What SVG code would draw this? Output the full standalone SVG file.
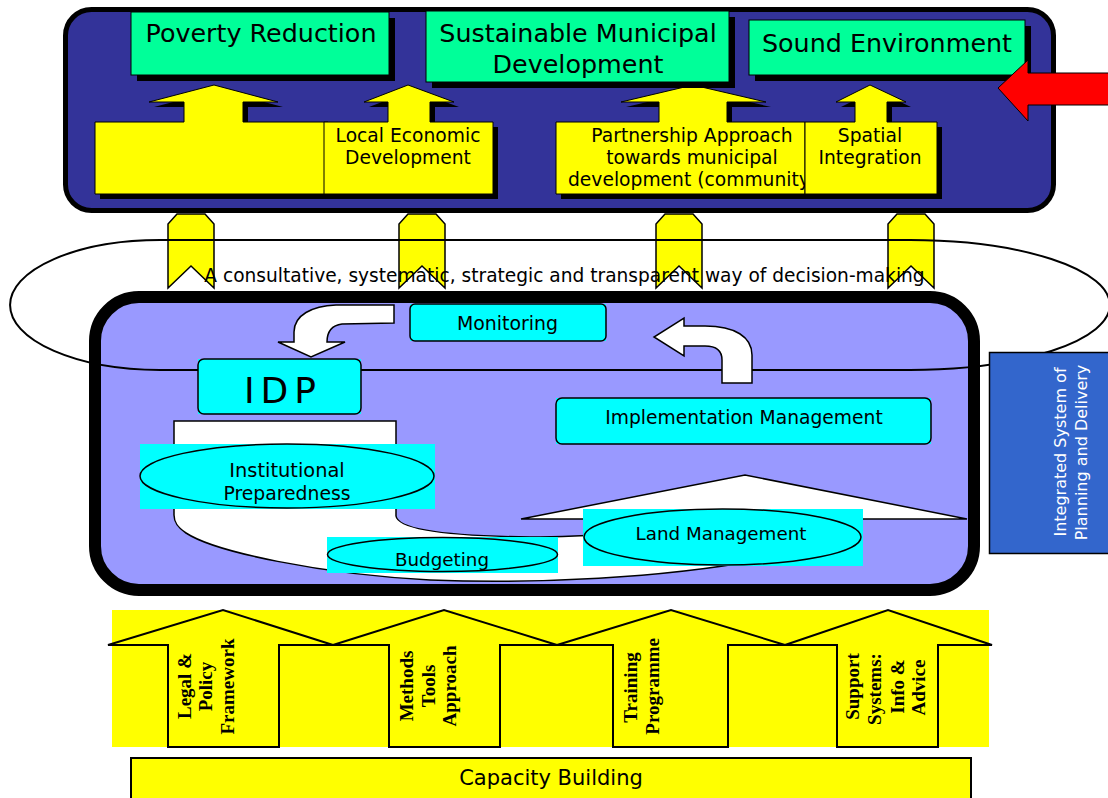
<svg xmlns="http://www.w3.org/2000/svg" width="1108" height="798" viewBox="0 0 1108 798">
  <style>
    .sans { font-family: "DejaVu Sans", "Liberation Sans", sans-serif; fill: #000; }
    .serifb { font-family: "Liberation Serif", "Times New Roman", serif; font-weight: bold; font-size: 19px; fill: #000; }
    .goal { font-size: 25.4px; }
    .lbl { font-size: 18.7px; }
    .oval { font-size: 18.3px; }
    .shadow { fill: #000; }
    .green { fill: #00FF99; stroke: #000; stroke-width: 1; }
    .yel { fill: #FFFF00; stroke: #000; stroke-width: 1; }
    .chev { fill: #FFFF00; stroke: #000; stroke-width: 1.5; }
    .cyanbg { fill: #00FFFF; }
    .cyanbox { fill: #00FFFF; stroke: #000; stroke-width: 1.5; }
    .whiteshape { fill: #FFFFFF; stroke: #000; stroke-width: 1.5; }
    .outline { fill: none; stroke: #000; stroke-width: 2; }
    .side { font-family: "DejaVu Sans", "Liberation Sans", sans-serif; font-size: 16px; fill: #FFFFFF; }
  </style>

  <!-- Outcome panel -->
  <g id="outcome-panel">
    <rect x="65.5" y="9.5" width="988" height="201" rx="26" fill="#333399" stroke="#000" stroke-width="5"/>
  </g>

  <!-- Sector blocks pushing up into the goals -->
  <g id="block-poverty">
    <polygon class="shadow" transform="translate(5,5)" points="95,122 184,122 184,102 149,102 214,85 278,102 243,102 243,122 328,122 328,194 95,194"/>
    <polygon class="yel" points="95,122 184,122 184,102 149,102 214,85 278,102 243,102 243,122 328,122 328,194 95,194"/>
  </g>
  <g id="block-led">
    <polygon class="shadow" transform="translate(5,5)" points="324,122 388,122 388,102 364,102 408,85 454,102 430,102 430,122 493,122 493,194 324,194"/>
    <polygon class="yel" points="324,122 388,122 388,102 364,102 408,85 454,102 430,102 430,122 493,122 493,194 324,194"/>
    <text class="sans lbl" text-anchor="middle" x="408" y="142">Local Economic</text>
    <text class="sans lbl" text-anchor="middle" x="408" y="164">Development</text>
  </g>
  <g id="block-partnership">
    <polygon class="shadow" transform="translate(5,5)" points="556,122 659,122 659,102 621,102 693,85 766,102 727,102 727,122 805,122 805,194 556,194"/>
    <polygon class="yel" points="556,122 659,122 659,102 621,102 693,85 766,102 727,102 727,122 805,122 805,194 556,194"/>
    <text class="sans lbl" text-anchor="middle" x="692" y="142">Partnership Approach</text>
    <text class="sans lbl" text-anchor="middle" x="692" y="164">towards municipal</text>
    <text class="sans lbl" x="568" y="186">development (community</text>
  </g>
  <g id="block-spatial">
    <polygon class="shadow" transform="translate(5,5)" points="805,122 855,122 855,102 836,102 870,85 906,102 887,102 887,122 937,122 937,194 805,194"/>
    <polygon class="yel" points="805,122 855,122 855,102 836,102 870,85 906,102 887,102 887,122 937,122 937,194 805,194"/>
    <text class="sans lbl" text-anchor="middle" x="870" y="142">Spatial</text>
    <text class="sans lbl" text-anchor="middle" x="870" y="164">Integration</text>
  </g>

  <!-- Goals -->
  <g id="goal-poverty">
    <rect class="shadow" x="137" y="18" width="258" height="63"/>
    <rect class="green" x="131" y="12" width="258" height="63"/>
    <text class="sans goal" text-anchor="middle" x="261" y="42">Poverty Reduction</text>
  </g>
  <g id="goal-municipal">
    <rect class="shadow" x="432" y="17" width="303" height="71"/>
    <rect class="green" x="426" y="11" width="303" height="71"/>
    <text class="sans goal" text-anchor="middle" x="578" y="42">Sustainable Municipal</text>
    <text class="sans goal" text-anchor="middle" x="578" y="73">Development</text>
  </g>
  <g id="goal-environment">
    <rect class="shadow" x="755" y="26" width="276" height="55"/>
    <rect class="green" x="749" y="20" width="276" height="55"/>
    <text class="sans goal" text-anchor="middle" x="887" y="52">Sound Environment</text>
  </g>

  <!-- Links between the planning cycle and the outcome panel -->
  <g id="links">
    <polygon class="chev" points="177,214 205,214 214,224 214,288 191,266 168,288 168,224"/>
    <polygon class="chev" points="408,214 436,214 445,224 445,288 422,266 399,288 399,224"/>
    <polygon class="chev" points="665,214 693,214 702,224 702,288 679,266 656,288 656,224"/>
    <polygon class="chev" points="897,214 925,214 934,224 934,288 911,266 888,288 888,224"/>
  </g>

  <!-- Planning cycle panel -->
  <g id="cycle-panel">
    <rect x="95" y="297" width="879" height="293" rx="44" fill="#9999FF" stroke="#000" stroke-width="12"/>
  </g>

  <!-- Decision-making ring -->
  <g id="decision-ring">
    <path class="outline" d="M 160,240 H 910 A 200,65 0 0 1 910,370 H 160 A 150,65 0 0 1 160,240 Z"/>
    <text class="sans" font-size="18.6" text-anchor="middle" x="564.5" y="282">A consultative, systematic, strategic and transparent way of decision-making</text>
  </g>

  <!-- Cycle internals -->
  <g id="budget-flow">
    <path class="whiteshape" d="M 174,421 H 396 V 516 C 398,530 450,536 530,537 C 600,537 680,530 760,522 V 560 C 660,578 540,584 430,580 C 320,574 215,552 186,533 C 177,527 174,522 174,515 Z"/>
  </g>
  <g id="land-roof">
    <polygon class="whiteshape" points="521,519 745,475 967,519"/>
  </g>
  <g id="institutional">
    <rect class="cyanbg" x="140" y="444" width="295" height="65"/>
    <ellipse class="cyanbox" cx="287" cy="476" rx="147" ry="32"/>
    <text class="sans" font-size="19.4" text-anchor="middle" x="287" y="477">Institutional</text>
    <text class="sans" font-size="18.8" text-anchor="middle" x="287" y="500">Preparedness</text>
  </g>
  <g id="budgeting">
    <rect class="cyanbg" x="327" y="537" width="231" height="36"/>
    <ellipse class="cyanbox" cx="442.5" cy="554.5" rx="115" ry="17"/>
    <text class="sans oval" text-anchor="middle" x="442" y="566">Budgeting</text>
  </g>
  <g id="land-management">
    <rect class="cyanbg" x="583" y="509" width="280" height="57"/>
    <ellipse class="cyanbox" cx="722.5" cy="537" rx="138.5" ry="28"/>
    <text class="sans oval" text-anchor="middle" x="721" y="539.5">Land Management</text>
  </g>
  <g id="idp">
    <rect class="cyanbg" x="198" y="359" width="163" height="55"/>
    <rect class="cyanbox" x="198" y="359" width="163" height="55" rx="6"/>
    <text class="sans" font-size="36" letter-spacing="6" text-anchor="middle" x="283" y="403">IDP</text>
  </g>
  <g id="monitoring">
    <rect class="cyanbg" x="410" y="304" width="196" height="37"/>
    <rect class="cyanbox" x="410" y="304" width="196" height="37" rx="5"/>
    <text class="sans" font-size="18.9" text-anchor="middle" x="507.5" y="330">Monitoring</text>
  </g>
  <g id="implementation">
    <rect class="cyanbg" x="556" y="398" width="375" height="46"/>
    <rect class="cyanbox" x="556" y="398" width="375" height="46" rx="6"/>
    <text class="sans" font-size="18.7" text-anchor="middle" x="744" y="424">Implementation Management</text>
  </g>

  <!-- Side label -->
  <g id="integrated-system">
    <rect x="989.5" y="352.5" width="125" height="201" fill="#3366CC" stroke="#000" stroke-width="1.5"/>
    <text class="side" text-anchor="middle" transform="translate(1065.5,452) rotate(-90)">Integrated System of</text>
    <text class="side" text-anchor="middle" transform="translate(1086.5,452.5) rotate(-90)">Planning and Delivery</text>
  </g>

  <!-- Capacity building pillars -->
  <g id="pillars">
    <rect x="112" y="610" width="877" height="137" fill="#FFFF00"/>
  </g>
  <g id="pillar-legal">
    <polygon class="outline" points="108,645 223,610 333,645 279,645 279,747 168,747 168,645"/>
    <text class="serifb" text-anchor="middle" transform="translate(190.5,686) rotate(-90)">Legal &amp;</text>
    <text class="serifb" text-anchor="middle" transform="translate(212,686.5) rotate(-90)">Policy</text>
    <text class="serifb" text-anchor="middle" transform="translate(234,686.5) rotate(-90)">Framework</text>
  </g>
  <g id="pillar-methods">
    <polygon class="outline" points="333,645 444,610 557,645 500,645 500,747 389,747 389,645"/>
    <text class="serifb" text-anchor="middle" transform="translate(412.5,686) rotate(-90)">Methods</text>
    <text class="serifb" text-anchor="middle" transform="translate(435,686) rotate(-90)">Tools</text>
    <text class="serifb" text-anchor="middle" transform="translate(455.5,686) rotate(-90)">Approach</text>
  </g>
  <g id="pillar-training">
    <polygon class="outline" points="557,645 671,610 785,645 728,645 728,747 613,747 613,645"/>
    <text class="serifb" text-anchor="middle" transform="translate(637,687.5) rotate(-90)">Training</text>
    <text class="serifb" text-anchor="middle" transform="translate(658.5,686.3) rotate(-90)">Programme</text>
  </g>
  <g id="pillar-support">
    <polygon class="outline" points="785,645 888,610 992,645 938,645 938,747 837,747 837,645"/>
    <text class="serifb" text-anchor="middle" transform="translate(859,686.5) rotate(-90)">Support</text>
    <text class="serifb" text-anchor="middle" transform="translate(881,689) rotate(-90)">Systems:</text>
    <text class="serifb" text-anchor="middle" transform="translate(904,686.5) rotate(-90)">Info &amp;</text>
    <text class="serifb" text-anchor="middle" transform="translate(925,687.5) rotate(-90)">Advice</text>
  </g>
  <g id="capacity-building">
    <rect x="131" y="758" width="840" height="45" fill="#FFFF00" stroke="#000" stroke-width="2"/>
    <text class="sans" font-size="21" text-anchor="middle" x="551" y="785">Capacity Building</text>
  </g>

  <!-- Connectors -->
  <g id="connectors">
    <path class="whiteshape" d="M 394,305 L 394,323 L 342,324 Q 327,326 327,342 L 345,342 L 311,357 L 278,342 L 294,342 L 294,332 C 294,315 312,306 336,305 Z"/>
    <path class="whiteshape" d="M 722,383 L 752,383 L 752,355 C 752,337 735,326 705,326 L 684,326 L 684,318 L 654,337 L 684,356 L 684,346 L 705,346 C 716,346 722,350 722,360 Z"/>
    <polygon fill="#FF0000" stroke="#000" stroke-width="1" points="998,88 1028,60 1028,73 1112,73 1112,105 1028,105 1028,121"/>
  </g>
</svg>
